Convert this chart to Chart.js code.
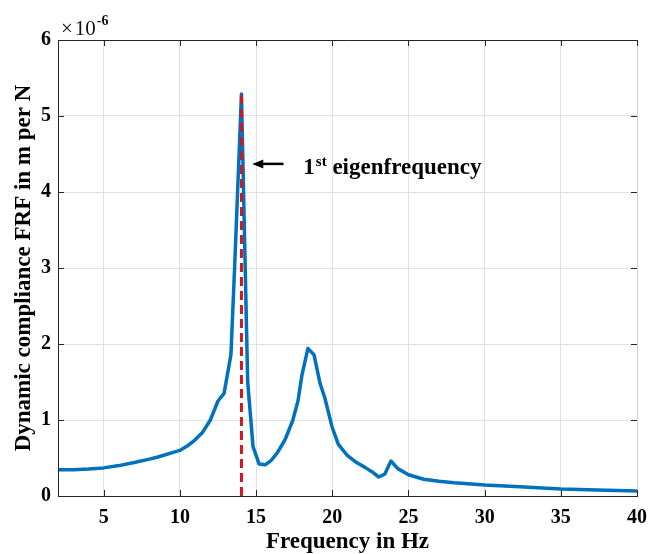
<!DOCTYPE html>
<html><head><meta charset="utf-8">
<script src="https://cdn.jsdelivr.net/npm/chart.js@4.4.1/dist/chart.umd.min.js"></script>
<style>html,body{margin:0;padding:0;background:#fff}#wrap{width:657px;height:554px;position:relative}</style>
</head><body><div id="wrap"><canvas id="c" width="657" height="554"></canvas></div>
<script>
// Frequency axis (Hz)
const frequencyHz = [2, 3, 4, 5, 6, 7, 8, 8.5, 9, 9.5, 10, 10.5, 11, 11.5, 12, 12.5, 12.9, 13.35, 13.6, 14.04,
  14.45, 14.8, 15.2, 15.6, 16.0, 16.4, 16.9, 17.4, 17.75, 18.0, 18.4, 18.8, 19.2, 19.5, 20.0, 20.4, 21.0, 21.6,
  22.2, 22.6, 23.05, 23.45, 23.85, 24.3, 25.0, 26.0, 27.0, 28.0, 30.0, 32.0, 35.0, 38.0, 40.0];
// Dynamic compliance FRF (x 1e-6 m/N)
const complianceE6 = [0.345, 0.345, 0.355, 0.37, 0.40, 0.44, 0.485, 0.51, 0.54, 0.57, 0.60, 0.66, 0.74, 0.84, 1.0, 1.25, 1.35, 1.86, 3.05, 5.29,
  1.5, 0.65, 0.42, 0.41, 0.47, 0.57, 0.74, 0.99, 1.25, 1.58, 1.94, 1.86, 1.48, 1.30, 0.90, 0.68, 0.53, 0.44,
  0.37, 0.32, 0.25, 0.29, 0.46, 0.36, 0.28, 0.22, 0.195, 0.175, 0.145, 0.125, 0.092, 0.075, 0.066];
const xTickValues = [5, 10, 15, 20, 25, 30, 35, 40];
const yTickValues = [0, 1, 2, 3, 4, 5, 6];
const eigenFrequencyHz = 14.04;
const eigenPeakE6 = 5.29;
const annotationText = ['1', 'st', ' eigenfrequency'];
const arrowFrom = {x: 16.8, y: 4.37};
const arrowTo = {x: 14.75, y: 4.37};
const textStartX = 18.1;

const SERIF = '"Liberation Serif", "Times New Roman", serif';
const AXIS_COLOR = '#262626';

const framePlugin = {
  id: 'frame',
  afterDatasetsDraw(chart) {
    const {ctx, chartArea: a, scales: {x, y}} = chart;
    ctx.save();
    ctx.strokeStyle = '#cfcfcf'; ctx.lineWidth = 1;
    ctx.beginPath(); ctx.moveTo(a.right + 0.5, a.top); ctx.lineTo(a.right + 0.5, a.bottom); ctx.stroke();
    ctx.strokeStyle = AXIS_COLOR; ctx.lineWidth = 1;
    ctx.beginPath();
    ctx.moveTo(a.left + 0.5, a.top + 0.5); ctx.lineTo(a.right + 1, a.top + 0.5);
    ctx.moveTo(a.left + 0.5, a.top); ctx.lineTo(a.left + 0.5, a.bottom + 0.5);
    ctx.moveTo(a.left, a.bottom + 0.5); ctx.lineTo(a.right + 1, a.bottom + 0.5);
    const tl = 6;
    xTickValues.forEach(v => {
      const px = Math.round(x.getPixelForValue(v)) + 0.5;
      ctx.moveTo(px, a.bottom); ctx.lineTo(px, a.bottom - tl);
      ctx.moveTo(px, a.top); ctx.lineTo(px, a.top + tl);
    });
    yTickValues.forEach(v => {
      const py = Math.round(y.getPixelForValue(v)) + 0.5;
      ctx.moveTo(a.left, py); ctx.lineTo(a.left + tl, py);
      ctx.moveTo(a.right, py); ctx.lineTo(a.right - tl, py);
    });
    ctx.stroke();
    ctx.restore();
  },
  afterDraw(chart) {
    const {ctx, chartArea: a, scales: {x, y}} = chart;
    ctx.save();
    ctx.fillStyle = '#111';
    ctx.textBaseline = 'alphabetic';
    ctx.font = '21px ' + SERIF;
    ctx.fillText('\u00d7', a.left + 3, a.top - 5);
    let ex = a.left + 3 + ctx.measureText('\u00d7').width + 2;
    ctx.fillText('10', ex, a.top - 5);
    ex += ctx.measureText('10').width + 1;
    ctx.font = 'bold 14px ' + SERIF;
    ctx.fillText('-6', ex, a.top - 15);
    // arrow
    const x0 = x.getPixelForValue(arrowFrom.x), x1 = x.getPixelForValue(arrowTo.x);
    const py = y.getPixelForValue(arrowFrom.y);
    ctx.strokeStyle = '#000'; ctx.fillStyle = '#000'; ctx.lineWidth = 2.5;
    ctx.beginPath(); ctx.moveTo(x0, py); ctx.lineTo(x1 + 8, py); ctx.stroke();
    ctx.beginPath(); ctx.moveTo(x1, py); ctx.lineTo(x1 + 11, py - 4.5); ctx.lineTo(x1 + 11, py + 4.5); ctx.closePath(); ctx.fill();
    // text
    let tx = x.getPixelForValue(textStartX);
    const base = py + 10;
    ctx.font = 'bold 23px ' + SERIF;
    ctx.fillText(annotationText[0], tx, base);
    tx += ctx.measureText(annotationText[0]).width + 1;
    ctx.font = 'bold 15px ' + SERIF;
    ctx.fillText(annotationText[1], tx, base - 8);
    tx += ctx.measureText(annotationText[1]).width;
    ctx.font = 'bold 23px ' + SERIF;
    ctx.fillText(annotationText[2], tx, base);
    ctx.restore();
  }
};

new Chart(document.getElementById('c'), {
  type: 'line',
  data: {
    datasets: [
      {
        label: 'eigenfrequency',
        data: [{x: eigenFrequencyHz, y: 0}, {x: eigenFrequencyHz, y: eigenPeakE6}],
        borderColor: '#cc1a1f', borderWidth: 3, borderDash: [9, 5],
        pointRadius: 0, order: 0
      },
      {
        label: 'FRF',
        data: frequencyHz.map((f, i) => ({x: f, y: complianceE6[i]})),
        borderColor: '#0072BD', borderWidth: 3.5, pointRadius: 0, tension: 0,
        borderJoinStyle: 'round', borderCapStyle: 'round', order: 1
      }
    ]
  },
  options: {
    responsive: false, animation: false, devicePixelRatio: 1,
    layout: {padding: {top: 40, right: 20, bottom: 0, left: 0}},
    plugins: {legend: {display: false}, tooltip: {enabled: false}},
    scales: {
      x: {
        type: 'linear', min: 2, max: 40,
        afterBuildTicks: s => { s.ticks = xTickValues.map(v => ({value: v})); },
        afterFit: s => { s.height = 58; },
        grid: {color: '#e2e2e2', drawTicks: false, lineWidth: 1},
        border: {display: false},
        ticks: {color: '#000', padding: 10, maxRotation: 0, autoSkip: false,
          font: {family: SERIF, size: 20, weight: 'bold'}},
        title: {display: true, text: 'Frequency in Hz', color: '#000', padding: {top: 0, bottom: -2},
          font: {family: SERIF, size: 23, weight: 'bold'}}
      },
      y: {
        type: 'linear', min: 0, max: 6,
        afterBuildTicks: s => { s.ticks = yTickValues.map(v => ({value: v})); },
        afterFit: s => { s.width = 58; },
        grid: {color: '#e2e2e2', drawTicks: false, lineWidth: 1},
        border: {display: false},
        ticks: {color: '#000', padding: 7,
          font: {family: SERIF, size: 20, weight: 'bold'}},
        title: {display: true, text: 'Dynamic compliance FRF in m per N', color: '#000', padding: {top: 10, bottom: 0},
          font: {family: SERIF, size: 23, weight: 'bold'}}
      }
    }
  },
  plugins: [framePlugin]
});
</script></body></html>
